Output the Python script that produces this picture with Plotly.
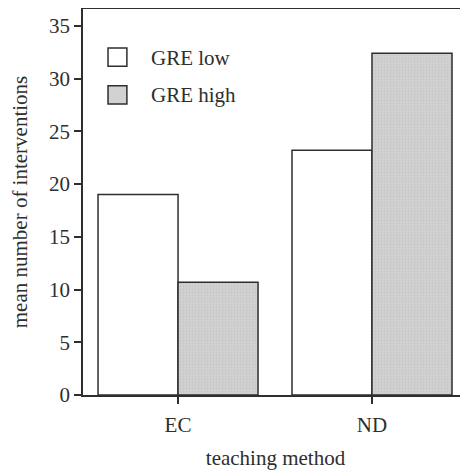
import plotly.graph_objects as go

methods = ["EC", "ND"]
gre_low = [19.0, 23.2]
gre_high = [10.7, 32.4]
y_ticks = [0, 5, 10, 15, 20, 25, 30, 35]
groups = ["GRE low", "GRE high"]

line_col = "#2e2e2e"
grey_fill = "#d2d2d2"
font = dict(family="Liberation Serif, Times New Roman, serif", size=21, color="#2e2e2e")

fig = go.Figure()
fig.add_trace(go.Bar(
    x=methods, y=gre_low, name=groups[0],
    marker=dict(color="white", line=dict(color=line_col, width=1.5)),
))
fig.add_trace(go.Bar(
    x=methods, y=gre_high, name=groups[1],
    marker=dict(color=grey_fill, line=dict(color=line_col, width=1.5),
                pattern=dict(shape=".", fgcolor="#b8b8b8", bgcolor=grey_fill,
                             size=3, solidity=0.3)),
))

# legend drawn by hand so the boxes match the bigger squares of the original
fills = ["white", grey_fill]
for i, (name, fill) in enumerate(zip(groups, fills)):
    y0 = [0.852, 0.754][i]
    fig.add_shape(type="rect", xref="paper", yref="paper",
                  x0=0.065, x1=0.114, y0=y0, y1=y0 + 0.047,
                  fillcolor=fill, line=dict(color=line_col, width=1.5))
    fig.add_annotation(xref="paper", yref="paper", x=0.171, y=y0 + 0.022,
                       text=name, showarrow=False, xanchor="left", yanchor="middle",
                       font=dict(size=21))

# page body has an 8px margin, so the figure is shrunk/shifted to compensate
fig.update_layout(
    width=460, height=462,
    margin=dict(l=75, r=0, t=1, b=75),
    paper_bgcolor="white", plot_bgcolor="white",
    font=font, showlegend=False,
    barmode="group", bargap=0.175, bargroupgap=0,
    xaxis=dict(
        type="category", range=[-0.49, 1.495], automargin=False,
        showline=True, linecolor=line_col, linewidth=1.5, mirror=True,
        ticks="outside", ticklen=7, tickcolor=line_col, tickwidth=1.5,
        showgrid=False, tickfont=dict(size=21), ticklabelstandoff=3,
        title=dict(text="teaching method", standoff=15, font=dict(size=21)),
    ),
    yaxis=dict(
        range=[0, 36.6], tickvals=y_ticks, automargin=False,
        showline=True, linecolor=line_col, linewidth=1.5,
        ticks="outside", ticklen=7, tickcolor=line_col, tickwidth=1.5,
        showgrid=False, zeroline=False, tickfont=dict(size=21),
        title=dict(text="mean number of interventions", standoff=20, font=dict(size=21)),
    ),
)

fig.write_html("out.html")
